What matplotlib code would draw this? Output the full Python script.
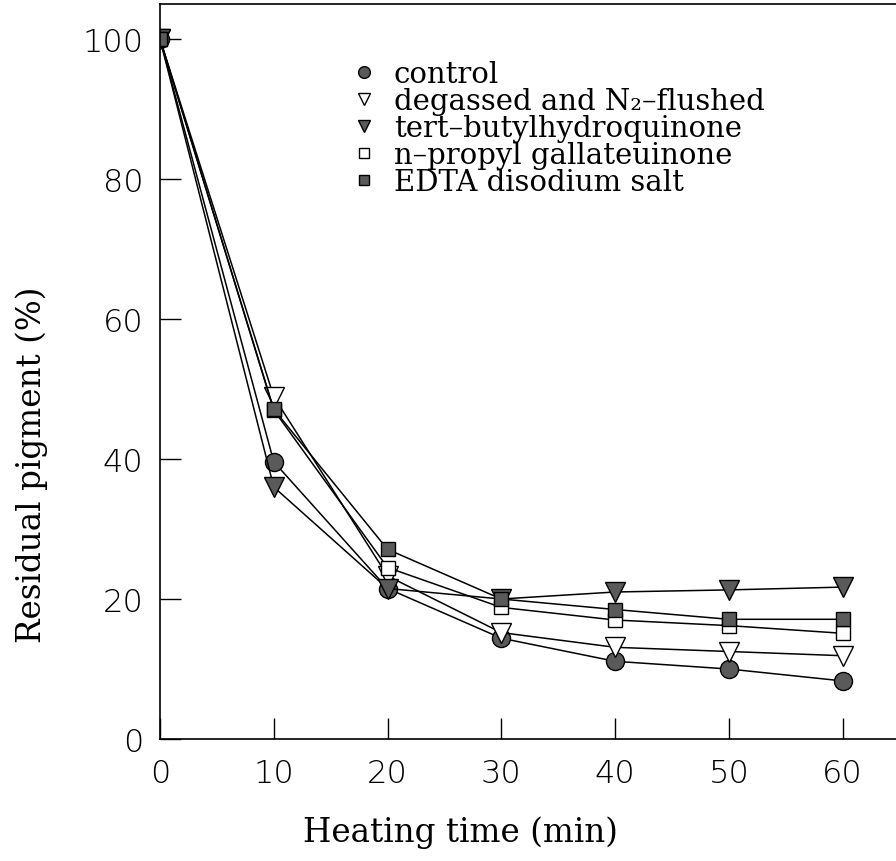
import numpy as np
import matplotlib
matplotlib.use("Agg")
import matplotlib.pyplot as plt

# heating time (min)
time_min = [0, 10, 20, 30, 40, 50, 60]

# residual pigment (%)
control = [100, 39.6, 21.5, 14.4, 11.1, 10.0, 8.3]
degassed = [100, 48.9, 23.3, 15.2, 13.1, 12.5, 11.9]
tbhq = [100, 36.0, 21.5, 20.0, 21.0, 21.3, 21.7]
npg = [100, 47.0, 24.5, 18.8, 17.0, 16.2, 15.1]
edta = [100, 47.1, 27.1, 20.0, 18.5, 17.1, 17.1]

series_labels = ["control",
                 "degassed and N\u2082\u2013flushed",
                 "tert\u2013butylhydroquinone",
                 "n\u2013propyl gallateuinone",
                 "EDTA disodium salt"]

x_ticks = [0, 10, 20, 30, 40, 50, 60]
y_ticks = [0, 20, 40, 60, 80, 100]

fill = "#5a5a5a"
styles = [
    dict(marker="o", ms=13, mfc=fill),
    dict(marker="v", ms=14, mfc="white"),
    dict(marker="v", ms=14, mfc=fill),
    dict(marker="s", ms=10, mfc="white"),
    dict(marker="s", ms=10, mfc=fill),
]

fig = plt.figure(figsize=(8.96, 8.62), dpi=100)
ax = fig.add_axes([160 / 896, 122 / 862, 1 - 160 / 896, 735 / 862])

for vals, lab, st in zip([control, degassed, tbhq, npg, edta], series_labels, styles):
    ax.plot(time_min, vals, color="black", lw=1.1, mec="black", mew=1.0,
            label=lab, **st)

ax.set_xlim(0, 64.7)
ax.set_ylim(0, 105)
ax.set_xticks(x_ticks)
ax.set_yticks(y_ticks)
ax.tick_params(direction="in", length=15, width=1.0, labelsize=23, pad=14)
ax.tick_params(axis="y", pad=12)
for lbl in ax.get_xticklabels() + ax.get_yticklabels():
    lbl.set_fontweight("light")
for sp in ax.spines.values():
    sp.set_linewidth(1.2)
ax.spines["right"].set_visible(False)

ax.set_xlabel("Heating time (min)", family="DejaVu Serif", fontsize=23.5)
ax.xaxis.set_label_coords(0.408, -0.104)
ax.set_ylabel("Residual pigment (%)", family="DejaVu Serif", fontsize=23.5)
ax.yaxis.set_label_coords(-0.152, 0.374)

leg = ax.legend(loc="upper left", bbox_to_anchor=(0.262, 0.94), frameon=False,
                markerscale=0.65, handlelength=0, handletextpad=1.0,
                labelspacing=-0.03, borderaxespad=0,
                prop={"family": "DejaVu Serif", "size": 21})
for h in leg.legend_handles:
    h.set_linestyle("none")

fig.savefig("out.png", dpi=100)
